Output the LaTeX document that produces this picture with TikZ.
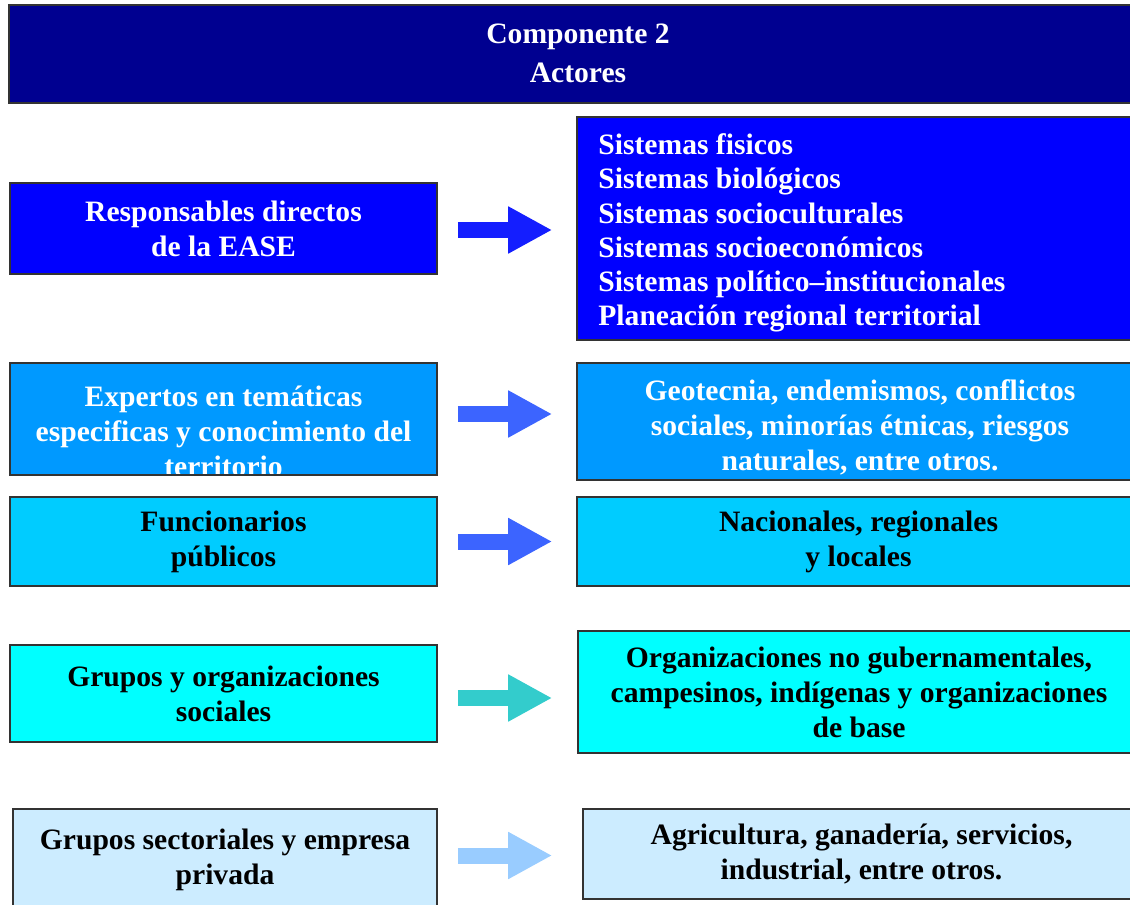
\documentclass[tikz,border=0pt]{standalone}
\usepackage{fontspec}
\setmainfont{Liberation Serif}
\usetikzlibrary{arrows.meta,calc}
\definecolor{hdrc}{RGB}{0,0,144}
\definecolor{cone}{RGB}{0,0,255}
\definecolor{ctwo}{RGB}{0,153,255}
\definecolor{cthree}{RGB}{0,204,255}
\definecolor{cfour}{RGB}{0,255,255}
\definecolor{cfive}{RGB}{204,236,255}
\definecolor{aone}{RGB}{20,30,255}
\definecolor{atwo}{RGB}{60,100,255}
\definecolor{afour}{RGB}{51,204,204}
\definecolor{afive}{RGB}{153,204,255}
\tikzset{
  box/.style={draw=black!80, line width=0.8pt, inner sep=0pt, align=center,
    font=\bfseries\fontsize{14.8}{17.5}\selectfont},
  txt/.style={inner sep=0pt, align=center, font=\bfseries\fontsize{14.8}{17.5}\selectfont},
  bigarrow/.style={line width=8pt, draw=#1, -{Triangle[length=22pt,width=22pt]}},
}
\begin{document}
\begin{tikzpicture}[x=0.5pt,y=-0.5pt]
\useasboundingbox (0,0) rectangle (1130,905);

% header
\node[box, fill=hdrc, minimum width=565.5pt, minimum height=49pt] (hdr) at (574.5,54) {};
\node[txt, text=white] (hdrt) at (578,53) {Componente 2\\[2pt]Actores};

% row 1
\node[box, fill=cone, text=white, minimum width=213.5pt, minimum height=45.5pt] (l1) at (223.5,228.5)
  {Responsables directos\\de la EASE};
\node[box, fill=cone, minimum width=281.5pt, minimum height=111.5pt] (r1) at (858.5,228.5) {};
\node[txt, text=white, align=left, anchor=west, font=\bfseries\fontsize{14.8}{17.1}\selectfont] (r1t) at (598,233)
  {Sistemas fisicos\\Sistemas biológicos\\Sistemas socioculturales\\Sistemas socioeconómicos\\Sistemas político–institucionales\\Planeación regional territorial};

% row 2
\node[box, fill=ctwo, minimum width=213.5pt, minimum height=56pt] (l2) at (223.5,419) {};
\begin{scope}
  \clip (10,363) rectangle (437,475);
  \node[txt, text=white] (l2t) at (223.5,431)
    {Expertos en temáticas\\especificas y conocimiento del\\territorio};
\end{scope}
\draw[black!80, line width=0.8pt] (10,363) rectangle (437,475);
\node[box, fill=ctwo, minimum width=281.5pt, minimum height=58.5pt] (r2) at (858.5,421.5) {};
\node[txt, text=white] (r2t) at (860,427)
  {Geotecnia, endemismos, conflictos\\sociales, minorías étnicas, riesgos\\naturales, entre otros.};

% row 3
\node[box, fill=cthree, minimum width=213.5pt, minimum height=44.5pt] (l3) at (223.5,541.5)
  {Funcionarios\\públicos};
\node[box, fill=cthree, minimum width=281.5pt, minimum height=44.5pt] (r3) at (858.5,541.5)
  {Nacionales, regionales\\y locales};

% row 4
\node[box, fill=cfour, minimum width=213.5pt, minimum height=48.5pt] (l4) at (223.5,693.5)
  {Grupos y organizaciones\\sociales};
\node[box, fill=cfour, minimum width=281pt, minimum height=61pt] (r4) at (859,692)
  {Organizaciones no gubernamentales,\\campesinos, indígenas y organizaciones\\de base};

% row 5
\node[box, fill=cfive, minimum width=212pt, minimum height=50.5pt] (l5) at (225,859.5)
  {Grupos sectoriales y empresa\\privada};
\node[box, fill=cfive, minimum width=278.5pt, minimum height=45pt] (r5) at (861.5,854)
  {Agricultura, ganadería, servicios,\\industrial, entre otros.};

% arrows
\draw[bigarrow=aone]  ($(l1.east)+(20,1.5)$) -- ($(r1.west|-l1.east)+(-24,1.5)$);
\draw[bigarrow=atwo]  ($(l2.east)+(20,-5)$) -- ($(r2.west|-l2.east)+(-24,-5)$);
\draw[bigarrow=atwo]  ($(l3.east)+(20,0)$) -- ($(r3.west|-l3.east)+(-24,0)$);
\draw[bigarrow=afour] ($(l4.east)+(20,4.5)$) -- ($(r4.west|-l4.east)+(-25,4.5)$);
\draw[bigarrow=afive] ($(l5.east)+(20,-4)$) -- ($(r5.west|-l5.east)+(-30,-4)$);
\end{tikzpicture}
\end{document}
